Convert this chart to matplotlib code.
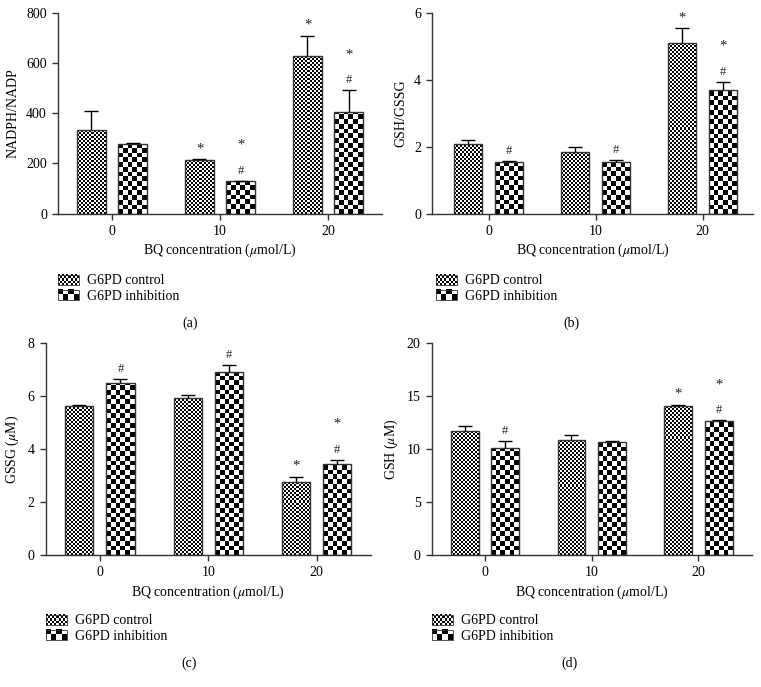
import numpy as np
import matplotlib
matplotlib.use("Agg")
import matplotlib.pyplot as plt
from matplotlib.legend_handler import HandlerBase
from matplotlib.image import BboxImage
from matplotlib.patches import Rectangle
from matplotlib.transforms import Bbox, TransformedBbox

plt.rcParams["font.family"] = ["Liberation Serif", "DejaVu Serif"]
plt.rcParams["mathtext.fontset"] = "stix"
plt.rcParams["font.size"] = 10

W, H = 761, 687

groups = ["0", "10", "20"]
series_names = ["G6PD control", "G6PD inhibition"]

# (a) NADPH/NADP
a_ctrl = [335, 214, 630]
a_ctrl_err = [73, 2, 80]
a_inh = [279, 128, 404]
a_inh_err = [2, 2, 88]
a_ctrl_sig = ["", "*", "*"]
a_inh_sig = ["", "#*", "#*"]

# (b) GSH/GSSG
b_ctrl = [2.08, 1.85, 5.10]
b_ctrl_err = [0.13, 0.14, 0.45]
b_inh = [1.53, 1.55, 3.69]
b_inh_err = [0.05, 0.04, 0.26]
b_ctrl_sig = ["", "", "*"]
b_inh_sig = ["#", "#", "#*"]

# (c) GSSG
c_ctrl = [5.62, 5.93, 2.77]
c_ctrl_err = [0.03, 0.13, 0.18]
c_inh = [6.51, 6.92, 3.45]
c_inh_err = [0.14, 0.25, 0.15]
c_ctrl_sig = ["", "", "*"]
c_inh_sig = ["#", "#", "#*"]

# (d) GSH
d_ctrl = [11.72, 10.88, 14.11]
d_ctrl_err = [0.44, 0.44, 0.05]
d_inh = [10.13, 10.69, 12.66]
d_inh_err = [0.65, 0.05, 0.05]
d_ctrl_sig = ["", "", "*"]
d_inh_sig = ["#", "", "#*"]

BAR_W = 0.26
OFFSET = 0.19
CELL_PX = [2.0, 4.7]  # checker square size for control / inhibition
EDGE = "#333333"
FS = 10


def checker(ny, nx):
    yy, xx = np.mgrid[0:ny, 0:nx]
    return ((xx + yy) % 2).astype(float)


class CheckerHandler(HandlerBase):
    def __init__(self, cell):
        super().__init__()
        self.cell = cell

    def create_artists(self, legend, orig_handle, xdescent, ydescent,
                       width, height, fontsize, trans):
        px = legend.figure.dpi / 72.0
        nx = max(int(round(width * px / self.cell)), 2)
        ny = max(int(round(height * px / self.cell)), 2)
        bb = TransformedBbox(Bbox.from_bounds(-xdescent, -ydescent, width, height), trans)
        im = BboxImage(bb, cmap="gray", interpolation="nearest", norm=plt.Normalize(0, 1))
        im.set_data(checker(ny, nx))
        frame = Rectangle((-xdescent, -ydescent), width, height, facecolor="none",
                          edgecolor=EDGE, linewidth=0.6, transform=trans)
        return [im, frame]


def fill_checker(ax, bars, cell):
    for rect in bars:
        x0, y0 = rect.get_x(), rect.get_y()
        x1, y1 = x0 + rect.get_width(), y0 + rect.get_height()
        (px0, py0), (px1, py1) = ax.transData.transform([(x0, y0), (x1, y1)])
        nx = max(int(round((px1 - px0) / cell)), 2)
        ny = max(int(round((py1 - py0) / cell)), 1)
        im = ax.imshow(checker(ny, nx)[::-1], cmap="gray", vmin=0, vmax=1,
                       extent=(x0, x1, y0, y0 + ny * cell * (y1 - y0) / (py1 - py0)),
                       interpolation="nearest", origin="lower", aspect="auto", zorder=1)
        im.set_clip_path(rect)


def panel(fig, rect, xlim, ylim, yticks, ylabel, ctrl, ctrl_err, inh, inh_err,
          ctrl_sig, inh_sig, legend_xy, tag, tag_xy):
    ax = fig.add_axes(rect)
    ax.set_xlim(*xlim)
    ax.set_ylim(*ylim)
    x = np.arange(len(groups))
    for i, (vals, errs, sig) in enumerate([(ctrl, ctrl_err, ctrl_sig), (inh, inh_err, inh_sig)]):
        xs = x + (OFFSET if i else -OFFSET)
        bars = ax.bar(xs, vals, BAR_W, facecolor="none", edgecolor=EDGE,
                      linewidth=1.0, zorder=2)
        fill_checker(ax, bars, CELL_PX[i])
        eb = ax.errorbar(xs, vals, yerr=[np.zeros(len(vals)), errs], fmt="none",
                         ecolor="black", elinewidth=1.0, capsize=5, capthick=1.0, zorder=3)
        eb[1][0].set_visible(False)
        for xi, v, e, s in zip(xs, vals, errs, sig):
            for k, ch in enumerate(s):
                ax.annotate(ch, (xi, v + e), xytext=(0, 3 + 18 * k),
                            textcoords="offset points", ha="center", va="bottom",
                            fontsize=9 if ch == "#" else 10.5, color="#222222")
    ax.set_xticks(x)
    ax.set_xticklabels(groups)
    ax.set_yticks(yticks)
    ax.spines["top"].set_visible(False)
    ax.spines["right"].set_visible(False)
    for s in ["left", "bottom"]:
        ax.spines[s].set_color(EDGE)
        ax.spines[s].set_linewidth(1.0)
    ax.tick_params(direction="out", length=4, width=1.0, color=EDGE, pad=4,
                   labelsize=FS)
    ax.set_ylabel(ylabel, fontsize=FS, labelpad=5)
    ax.set_xlabel(r"BQ concentration ($\mu$mol/L)", fontsize=FS, labelpad=3)

    handles = [Rectangle((0, 0), 1, 1), Rectangle((0, 1), 1, 1)]
    ax.legend(handles, series_names, loc="center left",
              bbox_to_anchor=(legend_xy[0] / W, 1 - legend_xy[1] / H),
              bbox_transform=fig.transFigure, frameon=False, fontsize=FS,
              handlelength=1.5, handleheight=0.75, handletextpad=0.6,
              labelspacing=0.15, borderpad=0, borderaxespad=0,
              handler_map={handles[0]: CheckerHandler(CELL_PX[0]),
                           handles[1]: CheckerHandler(CELL_PX[1])})
    fig.text(tag_xy[0] / W, 1 - tag_xy[1] / H, tag, ha="center", va="center", fontsize=FS)
    return ax


fig = plt.figure(figsize=(W / 100, H / 100), dpi=100)

top_b, top_h = 213.5, 200.2
bot_b, bot_h = 555.0, 211.7

panel(fig, [58 / W, 1 - top_b / H, 324 / W, top_h / H], (-0.5, 2.5), (0, 800),
      [0, 200, 400, 600, 800], "NADPH/NADP",
      a_ctrl, a_ctrl_err, a_inh, a_inh_err, a_ctrl_sig, a_inh_sig,
      (58, 288.5), "(a)", (190, 323))
panel(fig, [432 / W, 1 - top_b / H, 321 / W, top_h / H], (-0.53, 2.47), (0, 6),
      [0, 2, 4, 6], "GSH/GSSG",
      b_ctrl, b_ctrl_err, b_inh, b_inh_err, b_ctrl_sig, b_inh_sig,
      (436, 288.5), "(b)", (571, 323))
panel(fig, [45.7 / W, 1 - bot_b / H, 325 / W, bot_h / H], (-0.5, 2.5), (0, 8),
      [0, 2, 4, 6, 8], r"GSSG ($\mu$M)",
      c_ctrl, c_ctrl_err, c_inh, c_inh_err, c_ctrl_sig, c_inh_sig,
      (46, 628.5), "(c)", (189, 663))
panel(fig, [431.7 / W, 1 - bot_b / H, 320 / W, bot_h / H], (-0.5, 2.5), (0, 20),
      [0, 5, 10, 15, 20], r"GSH ($\mu$M)",
      d_ctrl, d_ctrl_err, d_inh, d_inh_err, d_ctrl_sig, d_inh_sig,
      (432, 628.5), "(d)", (570, 663))

fig.savefig("out.png", dpi=100)
